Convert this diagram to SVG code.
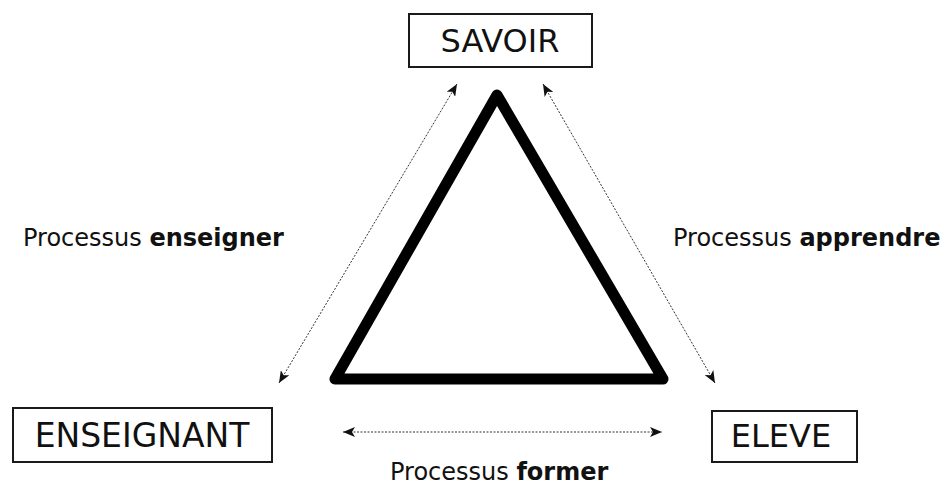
<svg xmlns="http://www.w3.org/2000/svg" width="942" height="486" viewBox="0 0 942 486">
<style>
.box{fill:#fff;stroke:#1a1a1a;stroke-width:2}
.lbl{font-family:"DejaVu Sans",Verdana,sans-serif;font-size:32px;fill:#111;text-anchor:middle}
.cap{font-family:"DejaVu Sans",Verdana,sans-serif;font-size:24px;fill:#111}
.b{font-weight:bold}
.con{fill:none;stroke:#333;stroke-width:1;stroke-dasharray:2,1.5}
</style>
<defs>
<marker id="ah" viewBox="0 0 12 10" refX="12" refY="5" markerWidth="12" markerHeight="10" markerUnits="userSpaceOnUse" orient="auto-start-reverse">
<path d="M0,0 L12,5 L0,10 L3,5 Z" fill="#111"/>
</marker>
</defs>
<rect width="942" height="486" fill="#fff"/>
<g id="triangle">
<polygon points="497,95 335,379 663,379" fill="none" stroke="#000" stroke-width="11" stroke-linejoin="round"/>
</g>
<g id="connectors">
<line class="con" x1="279" y1="383" x2="457" y2="84" marker-start="url(#ah)" marker-end="url(#ah)"/>
<line class="con" x1="715" y1="383" x2="543" y2="84" marker-start="url(#ah)" marker-end="url(#ah)"/>
<line class="con" x1="343" y1="432" x2="662" y2="432" marker-start="url(#ah)" marker-end="url(#ah)"/>
</g>
<g id="savoir">
<rect class="box" x="409" y="14" width="183" height="53"/>
<text class="lbl" x="500" y="52">SAVOIR</text>
</g>
<g id="enseignant">
<rect class="box" x="13" y="408" width="259" height="54"/>
<text class="lbl" x="142" y="447" style="font-size:33px">ENSEIGNANT</text>
</g>
<g id="eleve">
<rect class="box" x="712" y="411" width="145" height="51"/>
<text class="lbl" x="781" y="447">ELEVE</text>
</g>
<g id="labels">
<text class="cap" x="23" y="246">Processus <tspan class="b">enseigner</tspan></text>
<text class="cap" x="673" y="246">Processus <tspan class="b">apprendre</tspan></text>
<text class="cap" x="390" y="480">Processus <tspan class="b">former</tspan></text>
</g>
</svg>
